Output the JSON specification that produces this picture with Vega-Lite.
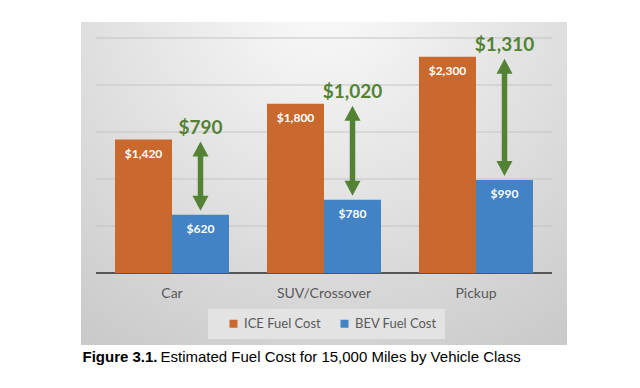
{
  "$schema": "https://vega.github.io/schema/vega-lite/v6.json",
  "width": 486,
  "height": 323,
  "autosize": {"type": "none"},
  "padding": {"left": 81, "top": 22, "right": 73, "bottom": 43},
  "background": "white",
  "datasets": {
    "grid": [{"v": 0}, {"v": 500}, {"v": 1000}, {"v": 1500}, {"v": 2000}, {"v": 2500}],
    "bars": [
      {"cat": "Car", "series": "ICE Fuel Cost", "cost": 1420},
      {"cat": "Car", "series": "BEV Fuel Cost", "cost": 620},
      {"cat": "SUV/Crossover", "series": "ICE Fuel Cost", "cost": 1800},
      {"cat": "SUV/Crossover", "series": "BEV Fuel Cost", "cost": 780},
      {"cat": "Pickup", "series": "ICE Fuel Cost", "cost": 2300},
      {"cat": "Pickup", "series": "BEV Fuel Cost", "cost": 990}
    ],
    "diffs": [
      {"cat": "Car", "series": "BEV Fuel Cost", "ice": 1420, "bev": 620, "diff": 790},
      {"cat": "SUV/Crossover", "series": "BEV Fuel Cost", "ice": 1800, "bev": 780, "diff": 1020},
      {"cat": "Pickup", "series": "BEV Fuel Cost", "ice": 2300, "bev": 990, "diff": 1310}
    ]
  },
  "layer": [
    {
      "data": {"name": "grid"},
      "mark": {"type": "rule"},
      "encoding": {
        "y": {"field": "v", "type": "quantitative", "title": "Figure 3.1.", "scale": {"domain": [-766, 2670], "nice": false, "zero": false}},
        "x": {"datum": 0, "type": "quantitative", "scale": {"domain": [-0.03289, 1.03289], "nice": false, "zero": false}, "axis": null},
        "x2": {"datum": 1},
        "color": {"condition": {"test": "datum.v === 0", "value": "#565656"}, "value": "#c4c4c4"},
        "strokeWidth": {"condition": {"test": "datum.v === 0", "value": 2}, "value": 1}
      }
    },
    {
      "encoding": {
        "x": {"field": "cat", "type": "nominal", "sort": ["Car", "SUV/Crossover", "Pickup"], "title": "Estimated Fuel Cost for 15,000 Miles by Vehicle Class", "scale": {"paddingInner": 0.25, "paddingOuter": 0.2237}},
        "xOffset": {"field": "series", "type": "nominal", "sort": ["ICE Fuel Cost", "BEV Fuel Cost"], "scale": {"paddingInner": 0, "paddingOuter": 0}}
      },
      "layer": [
        {
          "data": {"name": "bars"},
          "mark": {"type": "bar"},
          "encoding": {
            "y": {"field": "cost", "type": "quantitative", "title": "Figure 3.1.", "scale": {"domain": [-766, 2670], "nice": false, "zero": false}},
            "color": {"field": "series", "type": "nominal", "sort": ["ICE Fuel Cost", "BEV Fuel Cost"], "scale": {"domain": ["ICE Fuel Cost", "BEV Fuel Cost"], "range": ["#c9692e", "#4183c4"]}, "title": null}
          }
        },
        {
          "data": {"name": "bars"},
          "mark": {"type": "text", "font": "Lato", "fontWeight": "bold", "fontSize": 12, "color": "white", "baseline": "middle", "dy": 14},
          "encoding": {
            "y": {"field": "cost", "type": "quantitative", "title": "Figure 3.1.", "scale": {"domain": [-766, 2670], "nice": false, "zero": false}},
            "text": {"field": "cost", "type": "quantitative", "format": "$,.0f"}
          }
        },
        {
          "data": {"name": "diffs"},
          "mark": {"type": "rule", "color": "#548235", "strokeWidth": 5.5, "yOffset": 10, "y2Offset": -10},
          "encoding": {
            "y": {"field": "ice", "type": "quantitative", "title": "Figure 3.1.", "scale": {"domain": [-766, 2670], "nice": false, "zero": false}},
            "y2": {"field": "bev"}
          }
        },
        {
          "data": {"name": "diffs"},
          "mark": {"type": "point", "shape": "M0,0L1,1.875L-1,1.875Z", "size": 256, "filled": true, "color": "#548235", "opacity": 1, "yOffset": 2},
          "encoding": {
            "y": {"field": "ice", "type": "quantitative", "title": "Figure 3.1.", "scale": {"domain": [-766, 2670], "nice": false, "zero": false}}
          }
        },
        {
          "data": {"name": "diffs"},
          "mark": {"type": "point", "shape": "M0,0L1,-1.875L-1,-1.875Z", "size": 256, "filled": true, "color": "#548235", "opacity": 1, "yOffset": -4},
          "encoding": {
            "y": {"field": "bev", "type": "quantitative", "title": "Figure 3.1.", "scale": {"domain": [-766, 2670], "nice": false, "zero": false}}
          }
        },
        {
          "data": {"name": "diffs"},
          "mark": {"type": "text", "font": "Lato", "fontWeight": "bold", "fontSize": 19, "color": "#548235", "baseline": "alphabetic", "dy": -6},
          "encoding": {
            "y": {"field": "ice", "type": "quantitative", "title": "Figure 3.1.", "scale": {"domain": [-766, 2670], "nice": false, "zero": false}},
            "text": {"field": "diff", "type": "quantitative", "format": "$,.0f"}
          }
        }
      ]
    }
  ],
  "resolve": {"scale": {"x": "independent"}},
  "config": {
    "view": {
      "stroke": null,
      "fill": {
        "gradient": "radial",
        "x1": 0.5, "y1": 0.1, "r1": 0,
        "x2": 0.5, "y2": 0.1, "r2": 0.9,
        "stops": [{"offset": 0, "color": "#fbfbfb"}, {"offset": 1, "color": "#c8c8c8"}]
      }
    },
    "axisX": {
      "offset": -59, "domain": false, "ticks": false, "tickSize": 0, "labelPadding": 0, "grid": false,
      "labelAngle": 0, "labelFont": "Lato", "labelFontSize": 14, "labelColor": "#595959",
      "titleFont": "Liberation Sans", "titleFontSize": 15, "titleFontWeight": "normal", "titleColor": "#000000",
      "titleX": 79, "titleY": 75, "titleAlign": "left", "titleBaseline": "alphabetic"
    },
    "axisY": {
      "domain": false, "ticks": false, "labels": false, "grid": false,
      "titleAngle": 0, "titleX": 1, "titleY": 339, "titleAlign": "left", "titleBaseline": "alphabetic",
      "titleFont": "Liberation Sans", "titleFontSize": 15, "titleFontWeight": "bold", "titleColor": "#000000"
    },
    "legend": {
      "orient": "none", "legendX": 127, "legendY": 287, "direction": "horizontal",
      "fillColor": "#e3e3e3", "padding": 8, "symbolOffset": 11, "columnPadding": 6,
      "symbolType": "square", "symbolSize": 64, "symbolStrokeWidth": 0, "labelOffset": 4,
      "labelFont": "Lato", "labelFontSize": 13, "labelColor": "#595959"
    }
  }
}
